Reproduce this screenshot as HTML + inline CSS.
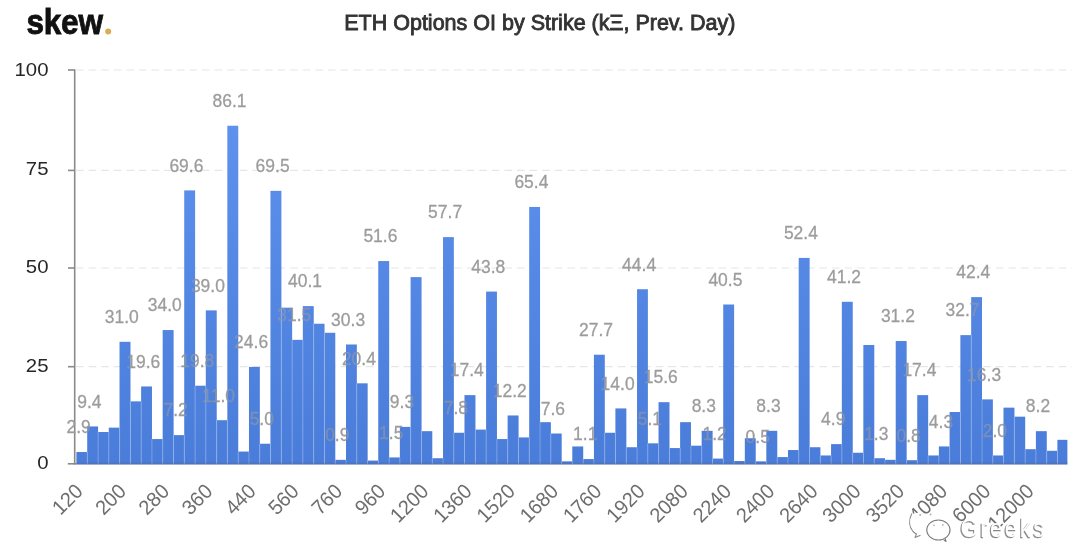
<!DOCTYPE html>
<html><head><meta charset="utf-8"><style>
html,body{margin:0;padding:0;background:#ffffff;width:1080px;height:543px;overflow:hidden}
</style></head><body>
<svg width="1080" height="543" viewBox="0 0 1080 543" style="display:block;will-change:transform">
<defs>
<linearGradient id="bg" x1="0" y1="0" x2="0" y2="1" gradientUnits="userSpaceOnUse" gradientTransform="scale(1,543)">
</linearGradient>
<linearGradient id="g" x1="0" y1="100" x2="0" y2="464" gradientUnits="userSpaceOnUse">
<stop offset="0" stop-color="#5f93ef"/>
<stop offset="1" stop-color="#4a7cd9"/>
</linearGradient>
</defs>
<line x1="76" y1="70.0" x2="1072" y2="70.0" stroke="#e6e6e6" stroke-width="1.2" stroke-dasharray="7.6 5"/>
<line x1="76" y1="170.4" x2="1072" y2="170.4" stroke="#e6e6e6" stroke-width="1.2" stroke-dasharray="7.6 5"/>
<line x1="76" y1="268.0" x2="1072" y2="268.0" stroke="#e6e6e6" stroke-width="1.2" stroke-dasharray="7.6 5"/>
<line x1="76" y1="366.7" x2="1072" y2="366.7" stroke="#e6e6e6" stroke-width="1.2" stroke-dasharray="7.6 5"/>
<line x1="67.8" y1="463.8" x2="76.5" y2="463.8" stroke="#8a8a8a" stroke-width="1.6"/>
<g fill="url(#g)"><rect x="76.50" y="452.03" width="10.78" height="12.27"/><rect x="87.28" y="426.54" width="10.78" height="37.76"/><rect x="98.06" y="432.03" width="10.78" height="32.27"/><rect x="108.84" y="427.72" width="10.78" height="36.58"/><rect x="119.62" y="341.85" width="10.78" height="122.45"/><rect x="130.40" y="401.45" width="10.78" height="62.85"/><rect x="141.18" y="386.55" width="10.78" height="77.75"/><rect x="151.96" y="439.09" width="10.78" height="25.21"/><rect x="162.74" y="330.09" width="10.78" height="134.21"/><rect x="173.52" y="435.17" width="10.78" height="29.13"/><rect x="184.30" y="190.50" width="10.78" height="273.80"/><rect x="195.08" y="385.76" width="10.78" height="78.54"/><rect x="205.86" y="310.48" width="10.78" height="153.82"/><rect x="216.64" y="420.27" width="10.78" height="44.03"/><rect x="227.42" y="125.80" width="10.78" height="338.50"/><rect x="238.20" y="451.64" width="10.78" height="12.66"/><rect x="248.98" y="366.94" width="10.78" height="97.36"/><rect x="259.76" y="443.79" width="10.78" height="20.51"/><rect x="270.54" y="190.89" width="10.78" height="273.41"/><rect x="281.32" y="307.74" width="10.78" height="156.56"/><rect x="292.10" y="339.89" width="10.78" height="124.41"/><rect x="302.88" y="306.17" width="10.78" height="158.13"/><rect x="313.66" y="323.81" width="10.78" height="140.49"/><rect x="324.44" y="332.83" width="10.78" height="131.47"/><rect x="335.22" y="459.87" width="10.78" height="4.43"/><rect x="346.00" y="344.59" width="10.78" height="119.71"/><rect x="356.78" y="383.41" width="10.78" height="80.89"/><rect x="367.56" y="460.66" width="10.78" height="3.64"/><rect x="378.34" y="261.08" width="10.78" height="203.22"/><rect x="389.12" y="457.52" width="10.78" height="6.78"/><rect x="399.90" y="426.93" width="10.78" height="37.37"/><rect x="410.68" y="277.15" width="10.78" height="187.15"/><rect x="421.46" y="431.25" width="10.78" height="33.05"/><rect x="432.24" y="458.30" width="10.78" height="6.00"/><rect x="443.02" y="237.16" width="10.78" height="227.14"/><rect x="453.80" y="432.82" width="10.78" height="31.48"/><rect x="464.58" y="395.17" width="10.78" height="69.13"/><rect x="475.36" y="429.68" width="10.78" height="34.62"/><rect x="486.14" y="291.66" width="10.78" height="172.64"/><rect x="496.92" y="439.09" width="10.78" height="25.21"/><rect x="507.70" y="415.56" width="10.78" height="48.74"/><rect x="518.48" y="437.52" width="10.78" height="26.78"/><rect x="529.26" y="206.97" width="10.78" height="257.33"/><rect x="540.04" y="422.23" width="10.78" height="42.07"/><rect x="550.82" y="433.60" width="10.78" height="30.70"/><rect x="561.60" y="461.44" width="10.78" height="2.86"/><rect x="572.38" y="446.54" width="10.78" height="17.76"/><rect x="583.16" y="459.09" width="10.78" height="5.21"/><rect x="593.94" y="354.79" width="10.78" height="109.51"/><rect x="604.72" y="432.82" width="10.78" height="31.48"/><rect x="615.50" y="408.51" width="10.78" height="55.79"/><rect x="626.28" y="447.32" width="10.78" height="16.98"/><rect x="637.06" y="289.31" width="10.78" height="174.99"/><rect x="647.84" y="443.40" width="10.78" height="20.90"/><rect x="658.62" y="402.23" width="10.78" height="62.07"/><rect x="669.40" y="448.11" width="10.78" height="16.19"/><rect x="680.18" y="422.23" width="10.78" height="42.07"/><rect x="690.96" y="445.76" width="10.78" height="18.54"/><rect x="701.74" y="430.86" width="10.78" height="33.44"/><rect x="712.52" y="458.69" width="10.78" height="5.61"/><rect x="723.30" y="304.60" width="10.78" height="159.70"/><rect x="734.08" y="461.05" width="10.78" height="3.25"/><rect x="744.86" y="438.31" width="10.78" height="25.99"/><rect x="755.64" y="461.44" width="10.78" height="2.86"/><rect x="766.42" y="430.86" width="10.78" height="33.44"/><rect x="777.20" y="457.13" width="10.78" height="7.17"/><rect x="787.98" y="450.07" width="10.78" height="14.23"/><rect x="798.76" y="257.94" width="10.78" height="206.36"/><rect x="809.54" y="447.32" width="10.78" height="16.98"/><rect x="820.32" y="455.56" width="10.78" height="8.74"/><rect x="831.10" y="444.19" width="10.78" height="20.11"/><rect x="841.88" y="301.85" width="10.78" height="162.45"/><rect x="852.66" y="452.81" width="10.78" height="11.49"/><rect x="863.44" y="344.99" width="10.78" height="119.31"/><rect x="874.22" y="458.30" width="10.78" height="6.00"/><rect x="885.00" y="459.87" width="10.78" height="4.43"/><rect x="895.78" y="341.06" width="10.78" height="123.24"/><rect x="906.56" y="460.26" width="10.78" height="4.04"/><rect x="917.34" y="395.17" width="10.78" height="69.13"/><rect x="928.12" y="455.56" width="10.78" height="8.74"/><rect x="938.90" y="446.54" width="10.78" height="17.76"/><rect x="949.68" y="412.03" width="10.78" height="52.27"/><rect x="960.46" y="335.18" width="10.78" height="129.12"/><rect x="971.24" y="297.15" width="10.78" height="167.15"/><rect x="982.02" y="399.49" width="10.78" height="64.81"/><rect x="992.80" y="455.56" width="10.78" height="8.74"/><rect x="1003.58" y="407.72" width="10.78" height="56.58"/><rect x="1014.36" y="416.74" width="10.78" height="47.56"/><rect x="1025.14" y="449.28" width="10.78" height="15.02"/><rect x="1035.92" y="431.25" width="10.78" height="33.05"/><rect x="1046.70" y="450.85" width="10.78" height="13.45"/><rect x="1057.48" y="439.87" width="9.82" height="24.43"/></g>
<g stroke="#ffffff" stroke-opacity="0.25" stroke-width="1"><line x1="87.28" y1="452.03" x2="87.28" y2="464.3"/><line x1="98.06" y1="432.03" x2="98.06" y2="464.3"/><line x1="108.84" y1="432.03" x2="108.84" y2="464.3"/><line x1="119.62" y1="427.72" x2="119.62" y2="464.3"/><line x1="130.40" y1="401.45" x2="130.40" y2="464.3"/><line x1="141.18" y1="401.45" x2="141.18" y2="464.3"/><line x1="151.96" y1="439.09" x2="151.96" y2="464.3"/><line x1="162.74" y1="439.09" x2="162.74" y2="464.3"/><line x1="173.52" y1="435.17" x2="173.52" y2="464.3"/><line x1="184.30" y1="435.17" x2="184.30" y2="464.3"/><line x1="195.08" y1="385.76" x2="195.08" y2="464.3"/><line x1="205.86" y1="385.76" x2="205.86" y2="464.3"/><line x1="216.64" y1="420.27" x2="216.64" y2="464.3"/><line x1="227.42" y1="420.27" x2="227.42" y2="464.3"/><line x1="238.20" y1="451.64" x2="238.20" y2="464.3"/><line x1="248.98" y1="451.64" x2="248.98" y2="464.3"/><line x1="259.76" y1="443.79" x2="259.76" y2="464.3"/><line x1="270.54" y1="443.79" x2="270.54" y2="464.3"/><line x1="281.32" y1="307.74" x2="281.32" y2="464.3"/><line x1="292.10" y1="339.89" x2="292.10" y2="464.3"/><line x1="302.88" y1="339.89" x2="302.88" y2="464.3"/><line x1="313.66" y1="323.81" x2="313.66" y2="464.3"/><line x1="324.44" y1="332.83" x2="324.44" y2="464.3"/><line x1="335.22" y1="459.87" x2="335.22" y2="464.3"/><line x1="346.00" y1="459.87" x2="346.00" y2="464.3"/><line x1="356.78" y1="383.41" x2="356.78" y2="464.3"/><line x1="367.56" y1="460.66" x2="367.56" y2="464.3"/><line x1="378.34" y1="460.66" x2="378.34" y2="464.3"/><line x1="389.12" y1="457.52" x2="389.12" y2="464.3"/><line x1="399.90" y1="457.52" x2="399.90" y2="464.3"/><line x1="410.68" y1="426.93" x2="410.68" y2="464.3"/><line x1="421.46" y1="431.25" x2="421.46" y2="464.3"/><line x1="432.24" y1="458.30" x2="432.24" y2="464.3"/><line x1="443.02" y1="458.30" x2="443.02" y2="464.3"/><line x1="453.80" y1="432.82" x2="453.80" y2="464.3"/><line x1="464.58" y1="432.82" x2="464.58" y2="464.3"/><line x1="475.36" y1="429.68" x2="475.36" y2="464.3"/><line x1="486.14" y1="429.68" x2="486.14" y2="464.3"/><line x1="496.92" y1="439.09" x2="496.92" y2="464.3"/><line x1="507.70" y1="439.09" x2="507.70" y2="464.3"/><line x1="518.48" y1="437.52" x2="518.48" y2="464.3"/><line x1="529.26" y1="437.52" x2="529.26" y2="464.3"/><line x1="540.04" y1="422.23" x2="540.04" y2="464.3"/><line x1="550.82" y1="433.60" x2="550.82" y2="464.3"/><line x1="561.60" y1="461.44" x2="561.60" y2="464.3"/><line x1="572.38" y1="461.44" x2="572.38" y2="464.3"/><line x1="583.16" y1="459.09" x2="583.16" y2="464.3"/><line x1="593.94" y1="459.09" x2="593.94" y2="464.3"/><line x1="604.72" y1="432.82" x2="604.72" y2="464.3"/><line x1="615.50" y1="432.82" x2="615.50" y2="464.3"/><line x1="626.28" y1="447.32" x2="626.28" y2="464.3"/><line x1="637.06" y1="447.32" x2="637.06" y2="464.3"/><line x1="647.84" y1="443.40" x2="647.84" y2="464.3"/><line x1="658.62" y1="443.40" x2="658.62" y2="464.3"/><line x1="669.40" y1="448.11" x2="669.40" y2="464.3"/><line x1="680.18" y1="448.11" x2="680.18" y2="464.3"/><line x1="690.96" y1="445.76" x2="690.96" y2="464.3"/><line x1="701.74" y1="445.76" x2="701.74" y2="464.3"/><line x1="712.52" y1="458.69" x2="712.52" y2="464.3"/><line x1="723.30" y1="458.69" x2="723.30" y2="464.3"/><line x1="734.08" y1="461.05" x2="734.08" y2="464.3"/><line x1="744.86" y1="461.05" x2="744.86" y2="464.3"/><line x1="755.64" y1="461.44" x2="755.64" y2="464.3"/><line x1="766.42" y1="461.44" x2="766.42" y2="464.3"/><line x1="777.20" y1="457.13" x2="777.20" y2="464.3"/><line x1="787.98" y1="457.13" x2="787.98" y2="464.3"/><line x1="798.76" y1="450.07" x2="798.76" y2="464.3"/><line x1="809.54" y1="447.32" x2="809.54" y2="464.3"/><line x1="820.32" y1="455.56" x2="820.32" y2="464.3"/><line x1="831.10" y1="455.56" x2="831.10" y2="464.3"/><line x1="841.88" y1="444.19" x2="841.88" y2="464.3"/><line x1="852.66" y1="452.81" x2="852.66" y2="464.3"/><line x1="863.44" y1="452.81" x2="863.44" y2="464.3"/><line x1="874.22" y1="458.30" x2="874.22" y2="464.3"/><line x1="885.00" y1="459.87" x2="885.00" y2="464.3"/><line x1="895.78" y1="459.87" x2="895.78" y2="464.3"/><line x1="906.56" y1="460.26" x2="906.56" y2="464.3"/><line x1="917.34" y1="460.26" x2="917.34" y2="464.3"/><line x1="928.12" y1="455.56" x2="928.12" y2="464.3"/><line x1="938.90" y1="455.56" x2="938.90" y2="464.3"/><line x1="949.68" y1="446.54" x2="949.68" y2="464.3"/><line x1="960.46" y1="412.03" x2="960.46" y2="464.3"/><line x1="971.24" y1="335.18" x2="971.24" y2="464.3"/><line x1="982.02" y1="399.49" x2="982.02" y2="464.3"/><line x1="992.80" y1="455.56" x2="992.80" y2="464.3"/><line x1="1003.58" y1="455.56" x2="1003.58" y2="464.3"/><line x1="1014.36" y1="416.74" x2="1014.36" y2="464.3"/><line x1="1025.14" y1="449.28" x2="1025.14" y2="464.3"/><line x1="1035.92" y1="449.28" x2="1035.92" y2="464.3"/><line x1="1046.70" y1="450.85" x2="1046.70" y2="464.3"/><line x1="1057.48" y1="450.85" x2="1057.48" y2="464.3"/></g>
<line x1="76.5" y1="463.5" x2="1067.3" y2="463.5" stroke="#5a6480" stroke-opacity="0.55" stroke-width="2"/>
<line x1="74.7" y1="69.5" x2="74.7" y2="464.5" stroke="#8a8a8a" stroke-width="1.6"/>
<line x1="68" y1="70.0" x2="75" y2="70.0" stroke="#8a8a8a" stroke-width="1.6"/>
<line x1="68" y1="170.4" x2="75" y2="170.4" stroke="#8a8a8a" stroke-width="1.6"/>
<line x1="68" y1="268.0" x2="75" y2="268.0" stroke="#8a8a8a" stroke-width="1.6"/>
<line x1="68" y1="366.7" x2="75" y2="366.7" stroke="#8a8a8a" stroke-width="1.6"/>
<text transform="translate(48.5,76.1) scale(1.1,1)" text-anchor="end" font-family="Liberation Sans" font-size="18.5" fill="#262626">100</text>
<text transform="translate(48.5,175.3) scale(1.1,1)" text-anchor="end" font-family="Liberation Sans" font-size="18.5" fill="#262626">75</text>
<text transform="translate(48.5,272.7) scale(1.1,1)" text-anchor="end" font-family="Liberation Sans" font-size="18.5" fill="#262626">50</text>
<text transform="translate(48.5,371.6) scale(1.1,1)" text-anchor="end" font-family="Liberation Sans" font-size="18.5" fill="#262626">25</text>
<text transform="translate(48.5,468.5) scale(1.1,1)" text-anchor="end" font-family="Liberation Sans" font-size="18.5" fill="#262626">0</text>
<g font-family="Liberation Sans" font-size="19" fill="#9c9c9c" stroke="#9c9c9c" stroke-width="0.3"><text transform="translate(78.6,433.2) scale(0.92,1)" text-anchor="middle">2.9</text><text transform="translate(89.4,407.7) scale(0.92,1)" text-anchor="middle">9.4</text><text transform="translate(121.7,323.0) scale(0.92,1)" text-anchor="middle">31.0</text><text transform="translate(143.3,367.7) scale(0.92,1)" text-anchor="middle">19.6</text><text transform="translate(164.8,311.3) scale(0.92,1)" text-anchor="middle">34.0</text><text transform="translate(175.6,416.4) scale(0.92,1)" text-anchor="middle">7.2</text><text transform="translate(186.4,171.7) scale(0.92,1)" text-anchor="middle">69.6</text><text transform="translate(197.2,367.0) scale(0.92,1)" text-anchor="middle">19.8</text><text transform="translate(207.9,291.7) scale(0.92,1)" text-anchor="middle">39.0</text><text transform="translate(218.7,401.5) scale(0.92,1)" text-anchor="middle">11.0</text><text transform="translate(229.5,107.0) scale(0.92,1)" text-anchor="middle">86.1</text><text transform="translate(251.1,348.1) scale(0.92,1)" text-anchor="middle">24.6</text><text transform="translate(261.8,425.0) scale(0.92,1)" text-anchor="middle">5.0</text><text transform="translate(272.6,172.1) scale(0.92,1)" text-anchor="middle">69.5</text><text transform="translate(294.2,321.1) scale(0.92,1)" text-anchor="middle">31.5</text><text transform="translate(305.0,287.4) scale(0.92,1)" text-anchor="middle">40.1</text><text transform="translate(337.3,441.1) scale(0.92,1)" text-anchor="middle">0.9</text><text transform="translate(348.1,325.8) scale(0.92,1)" text-anchor="middle">30.3</text><text transform="translate(358.9,364.6) scale(0.92,1)" text-anchor="middle">20.4</text><text transform="translate(380.4,242.3) scale(0.92,1)" text-anchor="middle">51.6</text><text transform="translate(391.2,438.7) scale(0.92,1)" text-anchor="middle">1.5</text><text transform="translate(402.0,408.1) scale(0.92,1)" text-anchor="middle">9.3</text><text transform="translate(445.1,218.4) scale(0.92,1)" text-anchor="middle">57.7</text><text transform="translate(455.9,414.0) scale(0.92,1)" text-anchor="middle">7.8</text><text transform="translate(466.7,376.4) scale(0.92,1)" text-anchor="middle">17.4</text><text transform="translate(488.2,272.9) scale(0.92,1)" text-anchor="middle">43.8</text><text transform="translate(509.8,396.8) scale(0.92,1)" text-anchor="middle">12.2</text><text transform="translate(531.4,188.2) scale(0.92,1)" text-anchor="middle">65.4</text><text transform="translate(552.9,414.8) scale(0.92,1)" text-anchor="middle">7.6</text><text transform="translate(585.2,440.3) scale(0.92,1)" text-anchor="middle">1.1</text><text transform="translate(596.0,336.0) scale(0.92,1)" text-anchor="middle">27.7</text><text transform="translate(617.6,389.7) scale(0.92,1)" text-anchor="middle">14.0</text><text transform="translate(639.1,270.5) scale(0.92,1)" text-anchor="middle">44.4</text><text transform="translate(649.9,424.6) scale(0.92,1)" text-anchor="middle">5.1</text><text transform="translate(660.7,383.4) scale(0.92,1)" text-anchor="middle">15.6</text><text transform="translate(703.8,412.1) scale(0.92,1)" text-anchor="middle">8.3</text><text transform="translate(714.6,439.9) scale(0.92,1)" text-anchor="middle">1.2</text><text transform="translate(725.4,285.8) scale(0.92,1)" text-anchor="middle">40.5</text><text transform="translate(757.7,442.6) scale(0.92,1)" text-anchor="middle">0.5</text><text transform="translate(768.5,412.1) scale(0.92,1)" text-anchor="middle">8.3</text><text transform="translate(800.9,239.1) scale(0.92,1)" text-anchor="middle">52.4</text><text transform="translate(833.2,425.4) scale(0.92,1)" text-anchor="middle">4.9</text><text transform="translate(844.0,283.1) scale(0.92,1)" text-anchor="middle">41.2</text><text transform="translate(876.3,439.5) scale(0.92,1)" text-anchor="middle">1.3</text><text transform="translate(897.9,322.3) scale(0.92,1)" text-anchor="middle">31.2</text><text transform="translate(908.6,441.5) scale(0.92,1)" text-anchor="middle">0.8</text><text transform="translate(919.4,376.4) scale(0.92,1)" text-anchor="middle">17.4</text><text transform="translate(941.0,427.7) scale(0.92,1)" text-anchor="middle">4.3</text><text transform="translate(962.5,316.4) scale(0.92,1)" text-anchor="middle">32.7</text><text transform="translate(973.3,278.3) scale(0.92,1)" text-anchor="middle">42.4</text><text transform="translate(984.1,380.7) scale(0.92,1)" text-anchor="middle">16.3</text><text transform="translate(994.9,436.8) scale(0.92,1)" text-anchor="middle">2.0</text><text transform="translate(1038.0,412.4) scale(0.92,1)" text-anchor="middle">8.2</text></g>
<g opacity="0.4"><g fill="url(#g)"><rect x="76.50" y="452.03" width="10.78" height="12.27"/><rect x="87.28" y="426.54" width="10.78" height="37.76"/><rect x="98.06" y="432.03" width="10.78" height="32.27"/><rect x="108.84" y="427.72" width="10.78" height="36.58"/><rect x="119.62" y="341.85" width="10.78" height="122.45"/><rect x="130.40" y="401.45" width="10.78" height="62.85"/><rect x="141.18" y="386.55" width="10.78" height="77.75"/><rect x="151.96" y="439.09" width="10.78" height="25.21"/><rect x="162.74" y="330.09" width="10.78" height="134.21"/><rect x="173.52" y="435.17" width="10.78" height="29.13"/><rect x="184.30" y="190.50" width="10.78" height="273.80"/><rect x="195.08" y="385.76" width="10.78" height="78.54"/><rect x="205.86" y="310.48" width="10.78" height="153.82"/><rect x="216.64" y="420.27" width="10.78" height="44.03"/><rect x="227.42" y="125.80" width="10.78" height="338.50"/><rect x="238.20" y="451.64" width="10.78" height="12.66"/><rect x="248.98" y="366.94" width="10.78" height="97.36"/><rect x="259.76" y="443.79" width="10.78" height="20.51"/><rect x="270.54" y="190.89" width="10.78" height="273.41"/><rect x="281.32" y="307.74" width="10.78" height="156.56"/><rect x="292.10" y="339.89" width="10.78" height="124.41"/><rect x="302.88" y="306.17" width="10.78" height="158.13"/><rect x="313.66" y="323.81" width="10.78" height="140.49"/><rect x="324.44" y="332.83" width="10.78" height="131.47"/><rect x="335.22" y="459.87" width="10.78" height="4.43"/><rect x="346.00" y="344.59" width="10.78" height="119.71"/><rect x="356.78" y="383.41" width="10.78" height="80.89"/><rect x="367.56" y="460.66" width="10.78" height="3.64"/><rect x="378.34" y="261.08" width="10.78" height="203.22"/><rect x="389.12" y="457.52" width="10.78" height="6.78"/><rect x="399.90" y="426.93" width="10.78" height="37.37"/><rect x="410.68" y="277.15" width="10.78" height="187.15"/><rect x="421.46" y="431.25" width="10.78" height="33.05"/><rect x="432.24" y="458.30" width="10.78" height="6.00"/><rect x="443.02" y="237.16" width="10.78" height="227.14"/><rect x="453.80" y="432.82" width="10.78" height="31.48"/><rect x="464.58" y="395.17" width="10.78" height="69.13"/><rect x="475.36" y="429.68" width="10.78" height="34.62"/><rect x="486.14" y="291.66" width="10.78" height="172.64"/><rect x="496.92" y="439.09" width="10.78" height="25.21"/><rect x="507.70" y="415.56" width="10.78" height="48.74"/><rect x="518.48" y="437.52" width="10.78" height="26.78"/><rect x="529.26" y="206.97" width="10.78" height="257.33"/><rect x="540.04" y="422.23" width="10.78" height="42.07"/><rect x="550.82" y="433.60" width="10.78" height="30.70"/><rect x="561.60" y="461.44" width="10.78" height="2.86"/><rect x="572.38" y="446.54" width="10.78" height="17.76"/><rect x="583.16" y="459.09" width="10.78" height="5.21"/><rect x="593.94" y="354.79" width="10.78" height="109.51"/><rect x="604.72" y="432.82" width="10.78" height="31.48"/><rect x="615.50" y="408.51" width="10.78" height="55.79"/><rect x="626.28" y="447.32" width="10.78" height="16.98"/><rect x="637.06" y="289.31" width="10.78" height="174.99"/><rect x="647.84" y="443.40" width="10.78" height="20.90"/><rect x="658.62" y="402.23" width="10.78" height="62.07"/><rect x="669.40" y="448.11" width="10.78" height="16.19"/><rect x="680.18" y="422.23" width="10.78" height="42.07"/><rect x="690.96" y="445.76" width="10.78" height="18.54"/><rect x="701.74" y="430.86" width="10.78" height="33.44"/><rect x="712.52" y="458.69" width="10.78" height="5.61"/><rect x="723.30" y="304.60" width="10.78" height="159.70"/><rect x="734.08" y="461.05" width="10.78" height="3.25"/><rect x="744.86" y="438.31" width="10.78" height="25.99"/><rect x="755.64" y="461.44" width="10.78" height="2.86"/><rect x="766.42" y="430.86" width="10.78" height="33.44"/><rect x="777.20" y="457.13" width="10.78" height="7.17"/><rect x="787.98" y="450.07" width="10.78" height="14.23"/><rect x="798.76" y="257.94" width="10.78" height="206.36"/><rect x="809.54" y="447.32" width="10.78" height="16.98"/><rect x="820.32" y="455.56" width="10.78" height="8.74"/><rect x="831.10" y="444.19" width="10.78" height="20.11"/><rect x="841.88" y="301.85" width="10.78" height="162.45"/><rect x="852.66" y="452.81" width="10.78" height="11.49"/><rect x="863.44" y="344.99" width="10.78" height="119.31"/><rect x="874.22" y="458.30" width="10.78" height="6.00"/><rect x="885.00" y="459.87" width="10.78" height="4.43"/><rect x="895.78" y="341.06" width="10.78" height="123.24"/><rect x="906.56" y="460.26" width="10.78" height="4.04"/><rect x="917.34" y="395.17" width="10.78" height="69.13"/><rect x="928.12" y="455.56" width="10.78" height="8.74"/><rect x="938.90" y="446.54" width="10.78" height="17.76"/><rect x="949.68" y="412.03" width="10.78" height="52.27"/><rect x="960.46" y="335.18" width="10.78" height="129.12"/><rect x="971.24" y="297.15" width="10.78" height="167.15"/><rect x="982.02" y="399.49" width="10.78" height="64.81"/><rect x="992.80" y="455.56" width="10.78" height="8.74"/><rect x="1003.58" y="407.72" width="10.78" height="56.58"/><rect x="1014.36" y="416.74" width="10.78" height="47.56"/><rect x="1025.14" y="449.28" width="10.78" height="15.02"/><rect x="1035.92" y="431.25" width="10.78" height="33.05"/><rect x="1046.70" y="450.85" width="10.78" height="13.45"/><rect x="1057.48" y="439.87" width="9.82" height="24.43"/></g><g stroke="#ffffff" stroke-opacity="0.25" stroke-width="1"><line x1="87.28" y1="452.03" x2="87.28" y2="464.3"/><line x1="98.06" y1="432.03" x2="98.06" y2="464.3"/><line x1="108.84" y1="432.03" x2="108.84" y2="464.3"/><line x1="119.62" y1="427.72" x2="119.62" y2="464.3"/><line x1="130.40" y1="401.45" x2="130.40" y2="464.3"/><line x1="141.18" y1="401.45" x2="141.18" y2="464.3"/><line x1="151.96" y1="439.09" x2="151.96" y2="464.3"/><line x1="162.74" y1="439.09" x2="162.74" y2="464.3"/><line x1="173.52" y1="435.17" x2="173.52" y2="464.3"/><line x1="184.30" y1="435.17" x2="184.30" y2="464.3"/><line x1="195.08" y1="385.76" x2="195.08" y2="464.3"/><line x1="205.86" y1="385.76" x2="205.86" y2="464.3"/><line x1="216.64" y1="420.27" x2="216.64" y2="464.3"/><line x1="227.42" y1="420.27" x2="227.42" y2="464.3"/><line x1="238.20" y1="451.64" x2="238.20" y2="464.3"/><line x1="248.98" y1="451.64" x2="248.98" y2="464.3"/><line x1="259.76" y1="443.79" x2="259.76" y2="464.3"/><line x1="270.54" y1="443.79" x2="270.54" y2="464.3"/><line x1="281.32" y1="307.74" x2="281.32" y2="464.3"/><line x1="292.10" y1="339.89" x2="292.10" y2="464.3"/><line x1="302.88" y1="339.89" x2="302.88" y2="464.3"/><line x1="313.66" y1="323.81" x2="313.66" y2="464.3"/><line x1="324.44" y1="332.83" x2="324.44" y2="464.3"/><line x1="335.22" y1="459.87" x2="335.22" y2="464.3"/><line x1="346.00" y1="459.87" x2="346.00" y2="464.3"/><line x1="356.78" y1="383.41" x2="356.78" y2="464.3"/><line x1="367.56" y1="460.66" x2="367.56" y2="464.3"/><line x1="378.34" y1="460.66" x2="378.34" y2="464.3"/><line x1="389.12" y1="457.52" x2="389.12" y2="464.3"/><line x1="399.90" y1="457.52" x2="399.90" y2="464.3"/><line x1="410.68" y1="426.93" x2="410.68" y2="464.3"/><line x1="421.46" y1="431.25" x2="421.46" y2="464.3"/><line x1="432.24" y1="458.30" x2="432.24" y2="464.3"/><line x1="443.02" y1="458.30" x2="443.02" y2="464.3"/><line x1="453.80" y1="432.82" x2="453.80" y2="464.3"/><line x1="464.58" y1="432.82" x2="464.58" y2="464.3"/><line x1="475.36" y1="429.68" x2="475.36" y2="464.3"/><line x1="486.14" y1="429.68" x2="486.14" y2="464.3"/><line x1="496.92" y1="439.09" x2="496.92" y2="464.3"/><line x1="507.70" y1="439.09" x2="507.70" y2="464.3"/><line x1="518.48" y1="437.52" x2="518.48" y2="464.3"/><line x1="529.26" y1="437.52" x2="529.26" y2="464.3"/><line x1="540.04" y1="422.23" x2="540.04" y2="464.3"/><line x1="550.82" y1="433.60" x2="550.82" y2="464.3"/><line x1="561.60" y1="461.44" x2="561.60" y2="464.3"/><line x1="572.38" y1="461.44" x2="572.38" y2="464.3"/><line x1="583.16" y1="459.09" x2="583.16" y2="464.3"/><line x1="593.94" y1="459.09" x2="593.94" y2="464.3"/><line x1="604.72" y1="432.82" x2="604.72" y2="464.3"/><line x1="615.50" y1="432.82" x2="615.50" y2="464.3"/><line x1="626.28" y1="447.32" x2="626.28" y2="464.3"/><line x1="637.06" y1="447.32" x2="637.06" y2="464.3"/><line x1="647.84" y1="443.40" x2="647.84" y2="464.3"/><line x1="658.62" y1="443.40" x2="658.62" y2="464.3"/><line x1="669.40" y1="448.11" x2="669.40" y2="464.3"/><line x1="680.18" y1="448.11" x2="680.18" y2="464.3"/><line x1="690.96" y1="445.76" x2="690.96" y2="464.3"/><line x1="701.74" y1="445.76" x2="701.74" y2="464.3"/><line x1="712.52" y1="458.69" x2="712.52" y2="464.3"/><line x1="723.30" y1="458.69" x2="723.30" y2="464.3"/><line x1="734.08" y1="461.05" x2="734.08" y2="464.3"/><line x1="744.86" y1="461.05" x2="744.86" y2="464.3"/><line x1="755.64" y1="461.44" x2="755.64" y2="464.3"/><line x1="766.42" y1="461.44" x2="766.42" y2="464.3"/><line x1="777.20" y1="457.13" x2="777.20" y2="464.3"/><line x1="787.98" y1="457.13" x2="787.98" y2="464.3"/><line x1="798.76" y1="450.07" x2="798.76" y2="464.3"/><line x1="809.54" y1="447.32" x2="809.54" y2="464.3"/><line x1="820.32" y1="455.56" x2="820.32" y2="464.3"/><line x1="831.10" y1="455.56" x2="831.10" y2="464.3"/><line x1="841.88" y1="444.19" x2="841.88" y2="464.3"/><line x1="852.66" y1="452.81" x2="852.66" y2="464.3"/><line x1="863.44" y1="452.81" x2="863.44" y2="464.3"/><line x1="874.22" y1="458.30" x2="874.22" y2="464.3"/><line x1="885.00" y1="459.87" x2="885.00" y2="464.3"/><line x1="895.78" y1="459.87" x2="895.78" y2="464.3"/><line x1="906.56" y1="460.26" x2="906.56" y2="464.3"/><line x1="917.34" y1="460.26" x2="917.34" y2="464.3"/><line x1="928.12" y1="455.56" x2="928.12" y2="464.3"/><line x1="938.90" y1="455.56" x2="938.90" y2="464.3"/><line x1="949.68" y1="446.54" x2="949.68" y2="464.3"/><line x1="960.46" y1="412.03" x2="960.46" y2="464.3"/><line x1="971.24" y1="335.18" x2="971.24" y2="464.3"/><line x1="982.02" y1="399.49" x2="982.02" y2="464.3"/><line x1="992.80" y1="455.56" x2="992.80" y2="464.3"/><line x1="1003.58" y1="455.56" x2="1003.58" y2="464.3"/><line x1="1014.36" y1="416.74" x2="1014.36" y2="464.3"/><line x1="1025.14" y1="449.28" x2="1025.14" y2="464.3"/><line x1="1035.92" y1="449.28" x2="1035.92" y2="464.3"/><line x1="1046.70" y1="450.85" x2="1046.70" y2="464.3"/><line x1="1057.48" y1="450.85" x2="1057.48" y2="464.3"/></g></g>
<g font-family="Liberation Sans" font-size="19" fill="#6e6e6e"><text transform="translate(84.1,492.5) rotate(-45) scale(1.05,1.08)" text-anchor="end">120</text><text transform="translate(127.3,492.5) rotate(-45) scale(1.05,1.08)" text-anchor="end">200</text><text transform="translate(170.5,492.5) rotate(-45) scale(1.05,1.08)" text-anchor="end">280</text><text transform="translate(213.8,492.5) rotate(-45) scale(1.05,1.08)" text-anchor="end">360</text><text transform="translate(257.0,492.5) rotate(-45) scale(1.05,1.08)" text-anchor="end">440</text><text transform="translate(300.2,492.5) rotate(-45) scale(1.05,1.08)" text-anchor="end">560</text><text transform="translate(343.5,492.5) rotate(-45) scale(1.05,1.08)" text-anchor="end">760</text><text transform="translate(386.7,492.5) rotate(-45) scale(1.05,1.08)" text-anchor="end">960</text><text transform="translate(429.9,492.5) rotate(-45) scale(1.05,1.08)" text-anchor="end">1200</text><text transform="translate(473.2,492.5) rotate(-45) scale(1.05,1.08)" text-anchor="end">1360</text><text transform="translate(516.4,492.5) rotate(-45) scale(1.05,1.08)" text-anchor="end">1520</text><text transform="translate(559.6,492.5) rotate(-45) scale(1.05,1.08)" text-anchor="end">1680</text><text transform="translate(602.9,492.5) rotate(-45) scale(1.05,1.08)" text-anchor="end">1760</text><text transform="translate(646.1,492.5) rotate(-45) scale(1.05,1.08)" text-anchor="end">1920</text><text transform="translate(689.3,492.5) rotate(-45) scale(1.05,1.08)" text-anchor="end">2080</text><text transform="translate(732.5,492.5) rotate(-45) scale(1.05,1.08)" text-anchor="end">2240</text><text transform="translate(775.8,492.5) rotate(-45) scale(1.05,1.08)" text-anchor="end">2400</text><text transform="translate(819.0,492.5) rotate(-45) scale(1.05,1.08)" text-anchor="end">2640</text><text transform="translate(862.2,492.5) rotate(-45) scale(1.05,1.08)" text-anchor="end">3000</text><text transform="translate(905.5,492.5) rotate(-45) scale(1.05,1.08)" text-anchor="end">3520</text><text transform="translate(948.7,492.5) rotate(-45) scale(1.05,1.08)" text-anchor="end">4080</text><text transform="translate(991.9,492.5) rotate(-45) scale(1.05,1.08)" text-anchor="end">6000</text><text transform="translate(1035.2,492.5) rotate(-45) scale(1.05,1.08)" text-anchor="end">12000</text></g>
<text x="539.8" y="30.1" text-anchor="middle" font-family="Liberation Sans" font-size="21.5" fill="#333333" stroke="#333333" stroke-width="0.85">ETH Options OI by Strike (k&#926;, Prev. Day)</text>
<text transform="translate(26.4,34.1) scale(0.875,1)" font-family="Liberation Sans" font-weight="bold" font-size="36" fill="#111111" stroke="#111111" stroke-width="0.9" letter-spacing="-0.2">skew</text>
<circle cx="108.2" cy="31.6" r="3" fill="#d8ad55"/>
<g stroke-linejoin="round">
<path d="M911.5,514 C908.5,520 909,527 913,531.5 C914,532.5 915,533.3 916.5,534 L915,537.5 L920.5,535.2 L926,535 L927,520 L921,512 Z" fill="#ffffff" stroke="none"/>
<path d="M911.8,513.5 C908.5,520 909,527 913,531.5 C914,532.5 915,533.3 916.5,534 L915,537.5 L920.5,535.2" fill="none" stroke="#8a8a8a" stroke-width="1.1"/>
<ellipse cx="938.4" cy="530" rx="11.6" ry="10" fill="#ffffff" stroke="#7a7a7a" stroke-width="1.15"/>
<path d="M943.5,539.6 L946,541.5 L945.2,538.5" fill="#ffffff" stroke="#7a7a7a" stroke-width="1.1"/>
<circle cx="920.2" cy="515" r="1" fill="#b0b0b0"/><circle cx="930.5" cy="514.6" r="1" fill="#b0b0b0"/>
<circle cx="934" cy="525.3" r="0.9" fill="#b8b8b8"/><circle cx="942.8" cy="525" r="0.9" fill="#b8b8b8"/>
</g>
<text transform="translate(959.4,537.8) scale(0.85,1)" font-family="Liberation Sans" font-size="26" letter-spacing="3" fill="#8a8a8a" stroke="#8a8a8a" stroke-width="0.4">Greeks</text>
<text transform="translate(960.4,537.0) scale(0.85,1)" font-family="Liberation Sans" font-size="26" letter-spacing="3" fill="#ffffff">Greeks</text>
</svg>
</body></html>
